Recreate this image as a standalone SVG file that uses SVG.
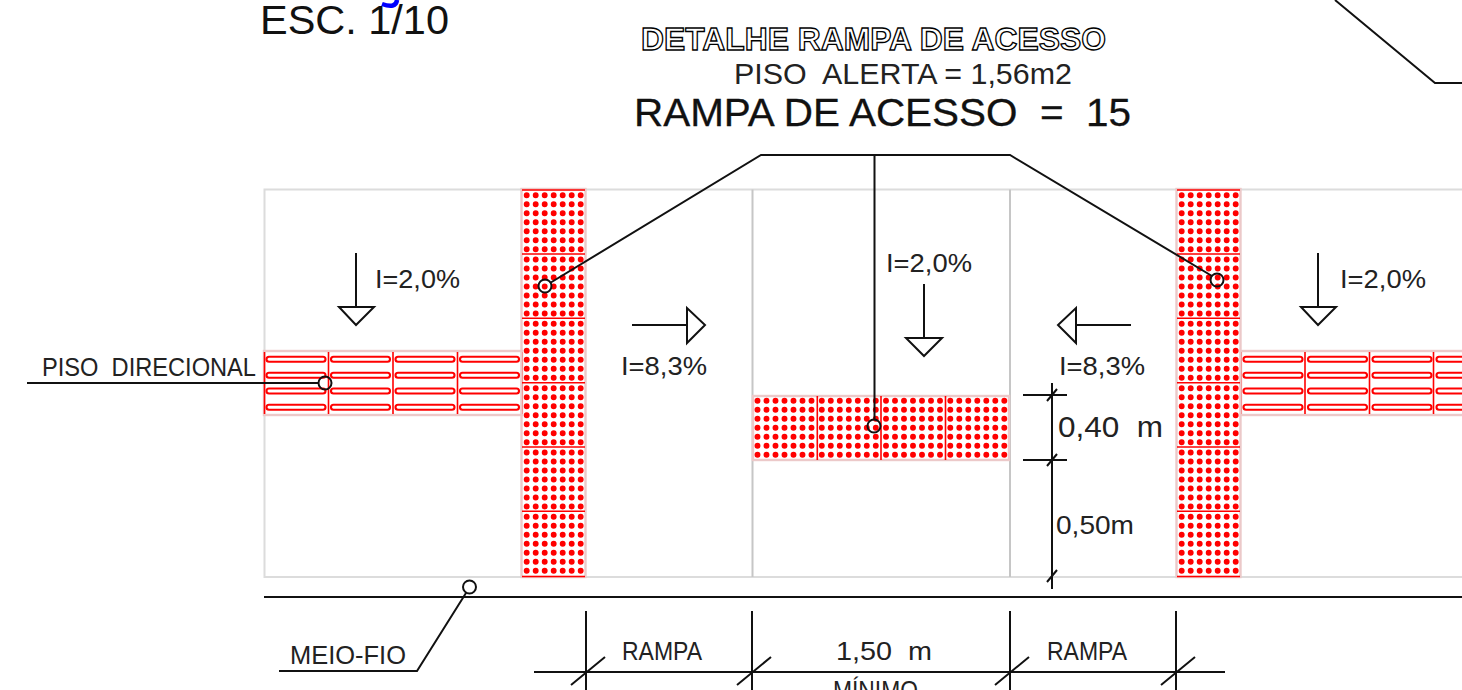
<svg xmlns="http://www.w3.org/2000/svg" width="1462" height="690" viewBox="0 0 1462 690">
<style>
text{font-family:"Liberation Sans",Arial,sans-serif;fill:#111;white-space:pre}
.l{font-size:25px;fill:#222}
.k{fill:none;stroke:#111;stroke-width:2}
.f{fill:none;stroke:#dcdcdc;stroke-width:2}
.v{fill:none;stroke:#c6c6c6;stroke-width:2}
.r{stroke:#f00;stroke-width:1.6;fill:none}
.d{stroke:#f00;stroke-width:5.900;stroke-linecap:round;stroke-dasharray:0 9;fill:none}
.b{fill:#fff;stroke:#f00;stroke-width:2.100}
.halo{fill:none;stroke:#ecc9c9;stroke-width:2.4}
</style>
<defs>
<g id="dots"><path class="d" d="M5 5.500H60M5 14.500H60M5 23.500H60M5 32.500H60M5 41.500H60M5 50.500H60M5 59.500H60"/></g>
<g id="bars"><rect class="b" x="2.500" y="2.800" width="59" height="5" rx="2.500"/><rect class="b" x="2.500" y="18.800" width="59" height="5" rx="2.500"/><rect class="b" x="2.500" y="34.500" width="59" height="5" rx="2.500"/><rect class="b" x="2.500" y="50.800" width="59" height="5" rx="2.500"/></g>
</defs>
<rect width="1462" height="690" fill="#fff"/>
<g id="frame">
<path class="f" d="M1462 189.500H264.500V577H1462"/>
<path class="v" d="M752.500 189.500V577M1010 189.500V577"/>
</g>
<g id="blue-arc"><path d="M382 4Q396 9 397 0" fill="none" stroke="#00f" stroke-width="4.500"/></g>
<g id="titles">
<text x="260" y="34" font-size="41" textLength="189" lengthAdjust="spacingAndGlyphs">ESC. 1/10</text>
<text x="641" y="50" font-size="32" font-weight="700" textLength="465" lengthAdjust="spacingAndGlyphs" style="fill:#fff;stroke:#000;stroke-width:1.300">DETALHE RAMPA DE ACESSO</text>
<text class="l" x="734" y="84" style="font-size:29px" textLength="338" lengthAdjust="spacingAndGlyphs">PISO  ALERTA = 1,56m2</text>
<text x="634" y="126" font-size="39" textLength="497" lengthAdjust="spacingAndGlyphs" stroke="#111" stroke-width=".3">RAMPA DE ACESSO  =  15</text>
</g>
<g id="piso-direcional-esq">
<rect class="halo" x="264" y="351" width="258" height="64"/>
<use href="#bars" x="264" y="354"/><use href="#bars" x="328.500" y="354"/><use href="#bars" x="393" y="354"/><use href="#bars" x="457.500" y="354"/>
<path class="r" d="M264.500 352V414M328.500 352V414M393 352V414M457.500 352V414M522 352V414"/>
</g>
<g id="piso-direcional-dir">
<rect class="halo" x="1241" y="351" width="223" height="64"/>
<use href="#bars" x="1241" y="354"/><use href="#bars" x="1305.500" y="354"/><use href="#bars" x="1370" y="354"/><use href="#bars" x="1434" y="354"/>
<path class="r" d="M1241 352V414M1305 352V414M1369.500 352V414M1433.500 352V414"/>
</g>
<g id="piso-alerta-esq">
<rect class="halo" x="521.500" y="189" width="64" height="388"/>
<use href="#dots" x="521.700" y="189.700"/><use href="#dots" x="521.700" y="254"/><use href="#dots" x="521.700" y="318.300"/><use href="#dots" x="521.700" y="382.700"/><use href="#dots" x="521.700" y="447"/><use href="#dots" x="521.700" y="511.300"/>
<path class="r" d="M522 190H585M522 254H585M522 318.300H585M522 382.700H585M522 447H585M522 511.300H585M522 576.500H585"/>
</g>
<g id="piso-alerta-dir">
<rect class="halo" x="1176.500" y="189" width="64" height="388"/>
<use href="#dots" x="1176.700" y="189.700"/><use href="#dots" x="1176.700" y="254"/><use href="#dots" x="1176.700" y="318.300"/><use href="#dots" x="1176.700" y="382.700"/><use href="#dots" x="1176.700" y="447"/><use href="#dots" x="1176.700" y="511.300"/>
<path class="r" d="M1177 190H1240M1177 254H1240M1177 318.300H1240M1177 382.700H1240M1177 447H1240M1177 511.300H1240M1177 576.500H1240"/>
</g>
<g id="piso-alerta-centro">
<rect class="halo" x="753" y="396" width="256" height="64"/>
<use href="#dots" x="752.500" y="395.200"/><use href="#dots" x="816.800" y="395.200"/><use href="#dots" x="881" y="395.200"/><use href="#dots" x="945.300" y="395.200"/>
<path class="r" d="M817.300 396V460M881 396V460M945.500 396V460"/>
</g>
<g id="connectors">
<path class="k" d="M27 383H319"/><circle class="k" cx="325" cy="383" r="6.500"/>
<path class="k" d="M550 283L761 155H1010L1212 276"/><circle class="k" cx="545" cy="286" r="6.500"/><circle class="k" cx="1217" cy="280" r="6.500"/>
<path class="k" d="M874.500 155V420"/><circle class="k" cx="874" cy="426" r="6.500"/>
<path class="k" d="M1335 0L1435 83H1462"/>
<path class="k" d="M264 597H1462"/>
<circle class="k" cx="469.500" cy="587" r="6.500"/><path class="k" d="M466 593L417 671H279"/>
</g>
<g id="setas">
<path class="k" d="M356 253V307M339 307H374L356 325Z"/>
<path class="k" d="M924 284V338M906 338H942L924 356Z"/>
<path class="k" d="M1318 253V307M1301 307H1336L1318 325Z"/>
<path class="k" d="M632 325H687M687 308V343L705 325Z"/>
<path class="k" d="M1131 325H1076M1076 308V343L1058 325Z"/>
</g>
<g id="cotas">
<path class="k" d="M1052 383V589M1023 395H1067M1023 460H1067M1047 401L1057 389M1047 466L1057 454M1047 582L1057 570"/>
<path class="k" d="M534 672H1225M586 611V690M752 611V690M1010 611V690M1176 611V690M571 685L605 657M737 685L771 657M995 685L1029 657M1161 685L1195 657"/>
</g>
<g id="rotulos">
<text class="l" x="375" y="288" textLength="85" lengthAdjust="spacingAndGlyphs">I=2,0%</text>
<text class="l" x="886" y="272" textLength="86" lengthAdjust="spacingAndGlyphs">I=2,0%</text>
<text class="l" x="1340" y="288" textLength="86" lengthAdjust="spacingAndGlyphs">I=2,0%</text>
<text class="l" x="621" y="375" textLength="86" lengthAdjust="spacingAndGlyphs">I=8,3%</text>
<text class="l" x="1059" y="375" textLength="86" lengthAdjust="spacingAndGlyphs">I=8,3%</text>
<text class="l" x="42" y="376" textLength="214" lengthAdjust="spacingAndGlyphs">PISO  DIRECIONAL</text>
<text class="l" x="1058" y="437" style="font-size:30px" textLength="105" lengthAdjust="spacingAndGlyphs">0,40  m</text>
<text class="l" x="1056" y="534" textLength="78" lengthAdjust="spacingAndGlyphs">0,50m</text>
<text class="l" x="290" y="664" textLength="116" lengthAdjust="spacingAndGlyphs">MEIO-FIO</text>
<text class="l" x="622" y="660" textLength="80" lengthAdjust="spacingAndGlyphs">RAMPA</text>
<text class="l" x="1047" y="660" textLength="80" lengthAdjust="spacingAndGlyphs">RAMPA</text>
<text class="l" x="836" y="660" textLength="96" lengthAdjust="spacingAndGlyphs">1,50  m</text>
<text class="l" x="833" y="699" textLength="85" lengthAdjust="spacingAndGlyphs">MÍNIMO</text>
</g>
</svg>
